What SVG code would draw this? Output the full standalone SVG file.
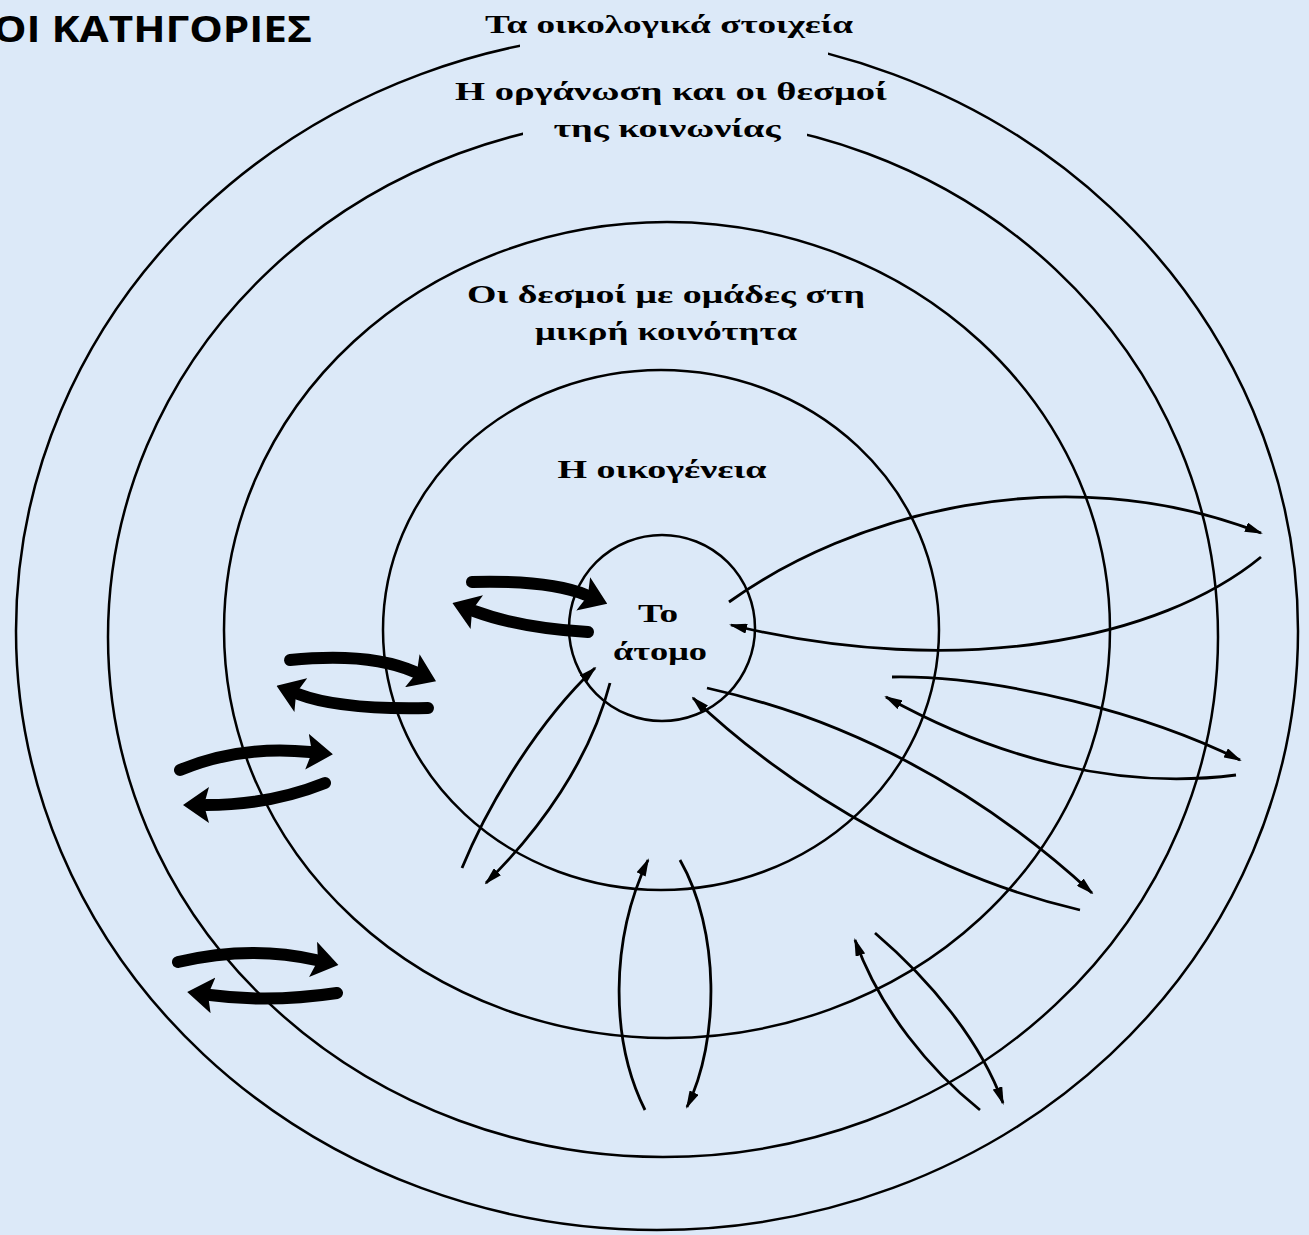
<svg xmlns="http://www.w3.org/2000/svg" width="1309" height="1235" viewBox="0 0 1309 1235">
<style>
.ring{fill:none;stroke:#000;stroke-width:2.5}
.lbl{font-family:"Liberation Serif","DejaVu Serif",serif;font-weight:bold;font-size:26px;fill:#000;text-anchor:middle}
.gap{fill:#dce9f8;stroke:none}
.thin{fill:none;stroke:#000;stroke-width:2.8;marker-end:url(#ah)}
.thick{fill:none;stroke:#000;stroke-width:12;stroke-linecap:round;marker-end:url(#bh)}
.title{font-family:"Open Sans","Liberation Sans",sans-serif;font-weight:bold;font-size:35px;fill:#000}
</style>
<defs>
<marker id="ah" viewBox="0 0 18 10" refX="16" refY="5" markerWidth="18" markerHeight="10" markerUnits="userSpaceOnUse" orient="auto"><path d="M0,0 L18,5 L0,10 z" fill="#000"/></marker>
<marker id="bh" viewBox="0 0 26 36" refX="3" refY="18" markerWidth="26" markerHeight="36" markerUnits="userSpaceOnUse" orient="auto"><path d="M0,0 L26,18 L0,36 L5,18 z" fill="#000"/></marker>
</defs>
<rect x="0" y="0" width="1309" height="1235" fill="#dce9f8"/>
<text class="title" x="-7" y="42" textLength="319" lengthAdjust="spacingAndGlyphs">ΟΙ ΚΑΤΗΓΟΡΙΕΣ</text>
<g id="ecology">
<ellipse class="ring" cx="657" cy="631" rx="641" ry="599"/>
<rect class="gap" x="520" y="0" width="308" height="58"/>
<text class="lbl" x="669" y="33" textLength="368" lengthAdjust="spacingAndGlyphs">Τα οικολογικά στοιχεία</text>
</g>
<g id="society">
<ellipse class="ring" cx="663" cy="637" rx="555" ry="520"/>
<rect class="gap" x="523" y="108" width="284" height="36"/>
<text class="lbl" x="671" y="100" textLength="432" lengthAdjust="spacingAndGlyphs">Η οργάνωση και οι θεσμοί</text>
<text class="lbl" x="667" y="137" textLength="227" lengthAdjust="spacingAndGlyphs">της κοινωνίας</text>
</g>
<g id="community">
<ellipse class="ring" cx="667" cy="630" rx="443" ry="408"/>
<text class="lbl" x="666" y="303" textLength="398" lengthAdjust="spacingAndGlyphs">Οι δεσμοί με ομάδες στη</text>
<text class="lbl" x="666" y="340" textLength="262" lengthAdjust="spacingAndGlyphs">μικρή κοινότητα</text>
</g>
<g id="family">
<ellipse class="ring" cx="661" cy="630" rx="278" ry="260"/>
<text class="lbl" x="662" y="478" textLength="209" lengthAdjust="spacingAndGlyphs">Η οικογένεια</text>
</g>
<g id="individual">
<circle class="ring" cx="662" cy="628" r="93"/>
<text class="lbl" x="658" y="622" textLength="40" lengthAdjust="spacingAndGlyphs">Το</text>
<text class="lbl" x="660" y="660" textLength="94" lengthAdjust="spacingAndGlyphs">άτομο</text>
</g>
<g id="connectors">
<path class="thick" d="M472,582 Q550,580 586,595"/>
<path class="thick" d="M588,632 Q520,628 474,611"/>
<path class="thick" d="M290,660 Q370,652 415,672"/>
<path class="thick" d="M428,708 Q340,710 298,694"/>
<path class="thick" d="M180,770 Q240,745 310,752"/>
<path class="thick" d="M325,783 Q270,805 206,805"/>
<path class="thick" d="M178,962 Q250,945 316,960"/>
<path class="thick" d="M337,993 Q270,1003 210,995"/>
<path class="thin" d="M729,602 C850,515 1060,455 1261,533"/>
<path class="thin" d="M1261,557 C1160,640 960,680 731,625"/>
<path class="thin" d="M892,677 C1000,675 1150,715 1240,760"/>
<path class="thin" d="M1236,775 C1120,790 1000,760 886,697"/>
<path class="thin" d="M707,688 C850,720 980,790 1092,893"/>
<path class="thin" d="M1080,910 C950,880 800,800 693,698"/>
<path class="thin" d="M645,1110 C610,1040 610,940 648,860"/>
<path class="thin" d="M680,860 C720,930 720,1040 687,1107"/>
<path class="thin" d="M980,1110 C930,1070 880,1010 855,940"/>
<path class="thin" d="M875,933 C930,980 980,1040 1003,1103"/>
<path class="thin" d="M462,868 C490,800 540,720 595,668"/>
<path class="thin" d="M610,683 C590,760 540,830 486,883"/>
</g>
</svg>
